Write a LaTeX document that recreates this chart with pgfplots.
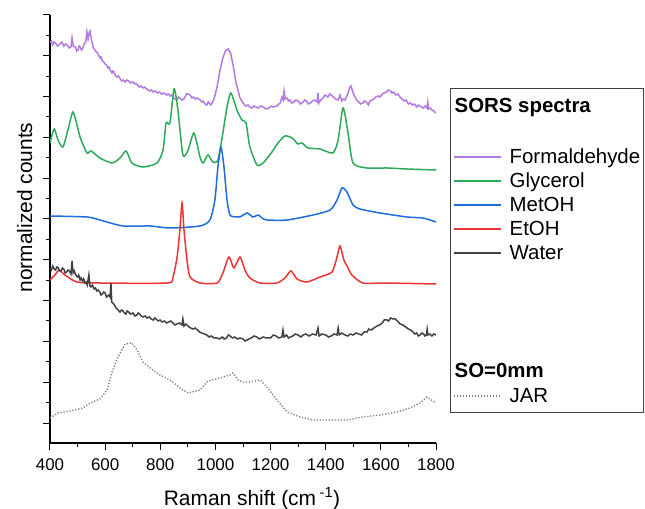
\documentclass[border=0pt]{standalone}
\usepackage{fontspec}
\setmainfont{Liberation Sans}
\usepackage{pgfplots}
\pgfplotsset{compat=1.18}
\definecolor{cForm}{RGB}{178,122,226}
\definecolor{cGly}{RGB}{44,170,92}
\definecolor{cMet}{RGB}{30,108,222}
\definecolor{cEt}{RGB}{238,52,52}
\definecolor{cWat}{RGB}{66,66,66}
\definecolor{cJar}{RGB}{125,125,125}
\begin{document}
\begin{tikzpicture}
\begin{axis}[
  name=ax,
  scale only axis, width=386bp, height=428bp,
  xmin=400, xmax=1800, ymin=0, ymax=428,
  axis x line*=bottom, axis y line*=left,
  axis line style={line width=1.1bp},
  tick align=outside,
  every tick/.style={black, line width=1bp},
  major tick length=7bp, minor tick length=4bp,
  xtick={400,600,...,1800}, minor x tick num=1,
  ytick={20,60.8,101.6,142.4,183.2,224,264.8,305.6,346.4,387.2,428},
  yticklabels={}, minor y tick num=1,
  tick label style={font=\fontsize{17}{20}\selectfont},
  xticklabel style={yshift=-5bp},
  /pgf/number format/assume math mode=true,
  /pgf/number format/1000 sep={},
  xlabel={Raman shift (cm\,\textsuperscript{-1})},
  ylabel={normalized counts},
  label style={font=\fontsize{21}{24}\selectfont},
  xlabel style={at={(axis description cs:0.5233,-0.1449)}, anchor=base},
  ylabel style={at={(axis description cs:-0.0466,0.5502)}, anchor=base},
  legend image code/.code={\draw[#1, line width=1.2bp] (0bp,6.5bp) -- (47bp,6.5bp);},
  legend style={at={(1.0363,0.8294)}, anchor=north west,
    draw=black!75, line width=0.9bp,
    font=\fontsize{20.5}{23}\selectfont,
    inner xsep=3bp, inner ysep=2bp, row sep=0pt, column sep=8bp,
    nodes={inner sep=0pt, text depth=, text height=},
    cells={anchor=base west}},
]
\addlegendimage{empty legend}
\addlegendentry{\hspace*{-55bp}\textbf{SORS spectra}\rule[-34bp]{0pt}{56bp}}

% Formaldehyde
\addplot[cForm, line width=1.5bp] coordinates {
(400,400) (405,402) (410,398) (415,401) (420,400) (428,397) (436,399) (443,401) (450,397)
(456,399) (462,398) (470,395) (476,396) (480,405) (484,397) (492,396) (497,392) (502,393)
(506,397) (510,396) (514,393) (518,394) (523,398) (530,402) (534,411)
(538,404) (542,410) (545,412) (550,404) (556,396) (565,392) (572,390) (576,388) (581,385)
(585,386) (590,382) (595,381) (600,379) (605,378) (610,375) (614,376) (618,373) (625,370)
(628,372) (632,371) (638,367) (643,366) (648,367) (655,364) (660,362) (666,363)
(672,361) (678,363) (685,362) (692,360) (701,361) (708,359) (715,359) (720,357) (725,356)
(730,357) (737,355) (743,356) (750,354) (756,353) (762,352) (768,353)
(774,351) (782,352) (790,350) (797,351) (805,349) (812,350) (824,348) (830,349) (835,347)
(840,348) (846,346) (852,344) (860,343) (866,346) (870,345)
(879,343) (885,344) (890,346) (895,349) (900,349) (908,348) (915,345) (920,346) (927,344)
(933,345) (940,344) (945,343) (950,341) (955,342) (962,339)
(969,338) (974,341) (978,340) (983,338) (988,340) (996,345) (1006,356) (1016,372) (1027,385) (1036,392)
(1046,394) (1055,390) (1064,378) (1075,360) (1089,345) (1100,340) (1110,337) (1118,338) (1125,336)
(1132,335) (1140,337) (1147,336) (1155,335) (1165,337) (1173,336) (1185,334) (1195,335) (1203,337) (1210,336) (1223,337) (1230,339) (1235,340) (1241,346)
(1246,343) (1249,352) (1253,344) (1260,345) (1265,342) (1270,343) (1277,340) (1285,341) (1292,343) (1300,342) (1308,339) (1318,341)
(1324,343) (1330,342) (1337,339) (1345,340) (1352,342) (1360,343) (1369,341) (1372,350) (1375,340) (1382,343) (1390,345) (1398,348) (1408,346)
(1414,349) (1420,348) (1428,346) (1435,344) (1445,343) (1452,348) (1458,342) (1464,344) (1470,343) (1480,349) (1488,356)
(1492,357) (1497,352) (1506,346) (1512,343) (1520,341) (1527,339) (1535,340) (1540,342) (1548,341) (1555,338) (1561,342) (1568,343) (1575,344)
(1582,346) (1590,347) (1597,346) (1605,349) (1612,350) (1620,351) (1627,353) (1635,352) (1640,350) (1645,351) (1655,348) (1662,349) (1669,346) (1677,344) (1685,342)
(1692,343) (1700,339) (1707,340) (1715,338) (1722,339) (1730,336) (1736,338) (1742,337) (1748,336) (1755,335) (1761,337) (1767,335) (1770,341) (1773,334)
(1779,335) (1785,333) (1792,332) (1800,330)
};
\addlegendentry{Formaldehyde\rule[-7bp]{0pt}{24bp}}

% Glycerol
\addplot[cGly, line width=1.5bp, smooth, tension=0.4] coordinates {
(400,300) (415,314) (429,303) (447,296) (465,313) (483,331) (498,318) (509,306)
(534,290) (549,292) (581,285) (625,280) (654,285) (676,292) (697,280) (737,276)
(788,280) (810,293) (821,320) (835,320) (850,354) (864,333) (882,288) (901,293)
(922,310) (944,286) (955,280) (973,288) (991,281) (1009,283) (1027,310) (1042,336)
(1056,350) (1078,333) (1096,323) (1111,320) (1125,296) (1151,278) (1173,280) (1205,291)
(1227,300) (1252,307) (1278,305) (1299,299) (1314,300) (1336,295) (1379,294) (1426,290)
(1445,303) (1463,335) (1481,310) (1499,280) (1550,275) (1622,275) (1695,274) (1800,273)
};
\addlegendentry{Glycerol\rule[-7bp]{0pt}{24bp}}

% MetOH
\addplot[cMet, line width=1.5bp, smooth, tension=0.4] coordinates {
(400,227) (534,226) (581,223) (665,217) (763,217) (835,215) (944,217) (980,223)
(998,243) (1009,276) (1020,296) (1031,276) (1042,243) (1053,228) (1075,226) (1089,226)
(1115,230) (1136,226) (1155,228) (1169,225) (1187,223) (1260,223) (1354,228) (1416,233)
(1441,243) (1459,255) (1477,251) (1499,238) (1524,234) (1597,230) (1695,226) (1753,225)
(1800,221)
};
\addlegendentry{MetOH\rule[-7bp]{0pt}{24bp}}

% EtOH
\addplot[cEt, line width=1.5bp, smooth, tension=0.4] coordinates {
(400,163) (418,168) (433,173) (454,168) (498,161) (581,160) (824,160) (846,166)
(861,186) (871,213) (879,240) (886,213) (897,183) (908,166) (944,160) (1006,160)
(1027,170) (1049,186) (1067,175) (1089,186) (1107,173) (1125,165) (1162,160) (1223,160)
(1252,165) (1274,172) (1296,164) (1332,161) (1379,166) (1423,171) (1441,186) (1452,197)
(1466,183) (1481,175) (1495,168) (1535,160) (1622,160) (1800,159)
};
\addlegendentry{EtOH\rule[-7bp]{0pt}{24bp}}

% Water
\addplot[cWat, line width=1.5bp] coordinates {
(400,175) (405,173) (410,177) (415,174) (420,173) (425,176) (430,175) (435,172) (440,172) (445,175) (450,174) (455,170) (460,171) (465,173) (470,172)
(476,169) (480,182) (484,170) (488,172) (492,169) (496,167) (500,166) (504,168) (509,163) (513,165) (518,162) (522,164) (527,160)
(531,161) (535,158) (541,168) (545,157) (549,156) (554,158) (560,154) (565,155) (570,152) (575,153) (581,151) (585,148) (590,149)
(595,151) (600,150) (605,146) (610,147) (614,148) (618,146) (621,160) (624,141) (628,140) (634,138) (640,135) (647,133) (654,131)
(660,133) (665,132) (670,130) (675,129) (680,132) (685,131) (692,129) (701,130) (708,127) (715,128) (720,130) (725,129) (731,127) (737,126) (745,127) (752,125)
(760,126) (767,124) (775,123) (780,125) (785,124) (792,122) (799,123) (807,121) (815,122) (822,120) (830,121) (838,122) (846,120) (853,118) (860,119)
(870,120) (879,118) (882,124) (886,117) (893,119) (900,117) (910,115) (919,114) (927,115) (935,113) (942,111) (950,110) (960,109) (969,108)
(977,106) (985,107) (995,105) (1006,105) (1015,104) (1025,106) (1032,104) (1040,105) (1047,108) (1053,107) (1062,105) (1070,106) (1080,104) (1089,105) (1100,104)
(1108,102) (1115,103) (1122,104) (1130,105) (1140,107) (1150,106) (1160,104) (1173,106) (1185,105) (1200,105) (1210,108) (1220,107) (1230,105) (1241,106) (1245,113)
(1249,106) (1258,108) (1265,105) (1280,107) (1290,109) (1300,108) (1310,106) (1318,108) (1328,109) (1340,107) (1352,109) (1365,108) (1372,115) (1376,107)
(1386,109) (1400,108) (1410,106) (1420,107) (1430,109) (1441,108) (1445,115) (1449,108) (1458,110) (1470,108) (1480,107) (1490,109) (1499,108) (1510,110) (1520,109)
(1530,108) (1540,111) (1550,111) (1556,114) (1565,113) (1575,115) (1586,117) (1595,118) (1605,120) (1612,123) (1622,123) (1628,122) (1635,125) (1644,124) (1652,124) (1660,122)
(1670,119) (1680,118) (1690,116) (1700,114) (1708,113) (1717,111) (1723,109) (1730,110) (1736,107) (1742,108) (1749,110) (1755,109) (1760,107) (1765,108) (1768,114)
(1771,108) (1778,109) (1785,107) (1792,109) (1800,108)
};
\addlegendentry{Water\rule[-101bp]{0pt}{118bp}}

\addlegendimage{empty legend}
\addlegendentry{\hspace*{-55bp}\textbf{SO=0mm}\rule[-8bp]{0pt}{25bp}}

% JAR
\addplot[cJar, line width=1.4bp, dash pattern=on 1.2bp off 1.8bp] coordinates {
(400,25) (429,30) (473,32) (520,35) (545,40) (581,44) (607,53) (625,71)
(647,86) (672,99) (697,100) (716,93) (737,81) (763,75) (799,68) (835,63)
(872,55) (901,50) (944,53) (973,62) (1017,65) (1053,68) (1064,70) (1082,63)
(1100,61) (1125,61) (1162,63) (1187,56) (1223,43) (1260,31) (1307,26) (1354,23)
(1416,23) (1477,23) (1535,26) (1597,28) (1659,31) (1706,35) (1742,40) (1767,46)
(1800,40)
};
\addlegendentry{JAR\rule[-8bp]{0pt}{25bp}}
\end{axis}
\pgfresetboundingbox
\path (ax.south west) ++(-50bp,-66bp) rectangle ++(645bp,509bp);
\end{tikzpicture}
\end{document}
